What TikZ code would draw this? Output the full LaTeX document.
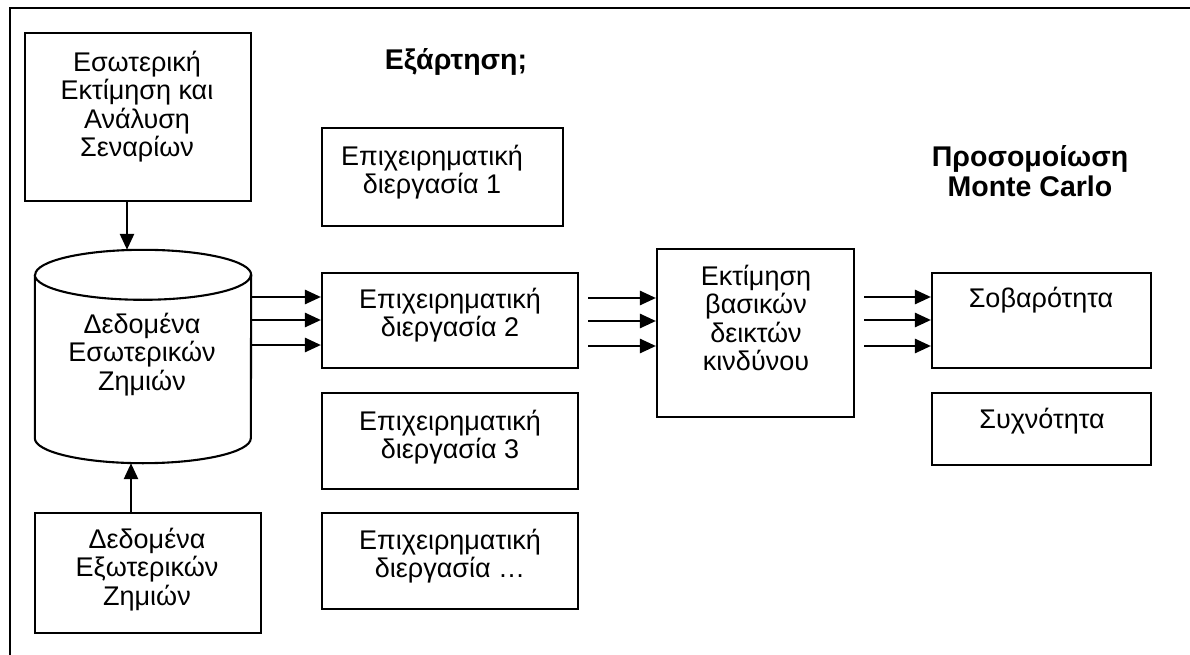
\documentclass[tikz,border=0pt]{standalone}
\usepackage{fontspec}
\setmainfont{Liberation Sans}
\usetikzlibrary{arrows.meta,calc}
\begin{document}
\begin{tikzpicture}[x=1pt,y=-1pt,
  box/.style={draw, line width=2.1pt, inner sep=0pt},
  lbl/.style={inner sep=0pt, anchor=north, align=center, font=\fontsize{27}{28.4}\selectfont},
  ttl/.style={inner sep=0pt, anchor=north, align=center, font=\fontsize{28.5}{30}\selectfont\bfseries},
  arr/.style={line width=2.6pt, -{Triangle[length=16pt,width=14pt]}},
  cyl/.style={line width=2.1pt},
]
\useasboundingbox (0,0) rectangle (1190,655);
% outer frame (left and top edges)
\draw[line width=2.2pt] (10,655) -- (10,8) -- (1190,8);

% left column
\node[box, minimum width=226pt, minimum height=168pt] (A) at (138,117) {};
\node[lbl] (tA) at (137,51) {Εσωτερική\\Εκτίμηση και\\Ανάλυση\\Σεναρίων};

\node[minimum width=216pt, minimum height=213pt, inner sep=0pt] (db) at (143,356.5) {};
\draw[cyl] ($(db.north west)+(0,25)$) -- ($(db.south west)+(0,-25)$)
  arc[start angle=180, end angle=360, x radius=108pt, y radius=25pt]
  -- ($(db.north east)+(0,25)$)
  arc[start angle=0, end angle=180, x radius=108pt, y radius=25pt];
\draw[cyl] ($(db.north west)+(0,25)$)
  arc[start angle=180, end angle=360, x radius=108pt, y radius=25pt];
\node[lbl] (tdb) at (142,313) {Δεδομένα\\Εσωτερικών\\Ζημιών};

\node[box, minimum width=226pt, minimum height=120pt] (C) at (148,573) {};
\node[lbl] (tC) at (147,528) {Δεδομένα\\Εξωτερικών\\Ζημιών};

% business processes
\node[ttl] (dep) at (456,48) {Εξάρτηση;};
\node[box, minimum width=241pt, minimum height=98pt] (P1) at (442.5,177) {};
\node[lbl] (t1) at (432,145) {Επιχειρηματική\\διεργασία 1};
\node[box, minimum width=256pt, minimum height=95pt] (P2) at (450,320.5) {};
\node[lbl] (t2) at (450,288) {Επιχειρηματική\\διεργασία 2};
\node[box, minimum width=256pt, minimum height=96pt] (P3) at (450,441) {};
\node[lbl] (t3) at (450,410) {Επιχειρηματική\\διεργασία 3};
\node[box, minimum width=256pt, minimum height=96pt] (P4) at (450,561) {};
\node[lbl] (t4) at (450,529) {Επιχειρηματική\\διεργασία …};

% key risk indicators
\node[box, minimum width=197pt, minimum height=168pt] (E) at (755.5,333) {};
\node[lbl] (tE) at (756,265) {Εκτίμηση\\βασικών\\δεικτών\\κινδύνου};

% Monte Carlo outputs
\node[ttl] (mc) at (1030,145) {Προσομοίωση\\Monte Carlo};
\node[box, minimum width=219pt, minimum height=95pt] (F) at (1041.5,320.5) {};
\node[lbl] (tF) at (1041,287) {Σοβαρότητα};
\node[box, minimum width=219pt, minimum height=72pt] (G) at (1041.5,429) {};
\node[lbl] (tG) at (1042,408) {Συχνότητα};

% connectors
\draw[arr] ([xshift=-11pt]A.south) -- ([xshift=-16pt]db.north);
\draw[arr] ([xshift=-17pt]C.north) -- ([xshift=-12pt]db.south);
\foreach \d in {-23.5,-0.5,24.5}
  \draw[arr] ($(db.east |- P2.west)+(0,\d)$) -- ($(P2.west)+(0,\d)$);
\foreach \d in {-22.5,0.5,25.5}
  \draw[arr] ($(P2.east)+(9,\d)$) -- ($(E.west |- P2.east)+(0,\d)$);
\foreach \d in {-23.5,-0.5,25.5}
  \draw[arr] ($(E.east |- F.west)+(9,\d)$) -- ($(F.west)+(0,\d)$);
\end{tikzpicture}
\end{document}
